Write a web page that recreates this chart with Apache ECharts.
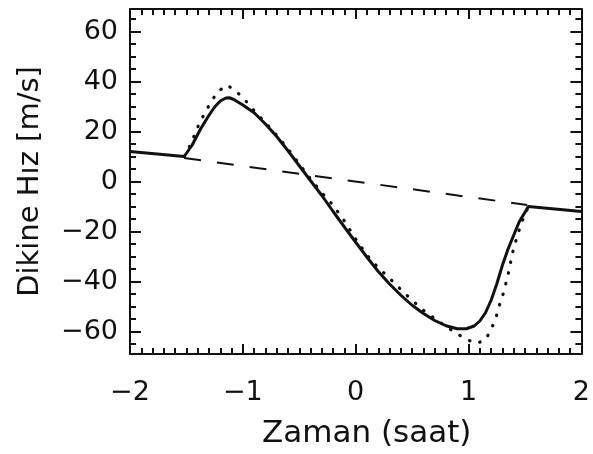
<!DOCTYPE html>
<html>
<head>
<meta charset="utf-8">
<script src="https://cdn.jsdelivr.net/npm/echarts@6/dist/echarts.min.js"></script>
<style>
  html, body { margin: 0; padding: 0; background: #fff; }
  #chart { width: 593px; height: 454px; }
</style>
</head>
<body>
<div id="chart"></div>
<script>
// solid curve (model)
var solidX = [-2, -1.52, -1.45, -1.375, -1.3, -1.25, -1.2, -1.15, -1.12, -1.08, -1.0, -0.9, -0.8, -0.7, -0.6, -0.5, -0.4, -0.3, -0.2, -0.1, 0, 0.1, 0.2, 0.3, 0.4, 0.5, 0.6, 0.7, 0.8, 0.9, 0.98, 1.05, 1.1, 1.15, 1.2, 1.25, 1.3, 1.35, 1.4, 1.45, 1.5, 1.53, 2];
var solidY = [12, 10, 14.5, 21, 26.5, 29.8, 32.2, 33.4, 33.5, 32.8, 30.6, 27.5, 23, 18, 12.3, 6.3, 0.3, -5.6, -12, -18.2, -24.3, -30.3, -36, -41, -45.5, -49.5, -52.8, -55.6, -57.7, -58.9, -58.9, -57.8, -55.8, -52.5, -47.5, -41, -33.5, -27, -21.5, -16, -12.3, -10, -12];

// dotted curve
var dotX = [-1.52, -1.45, -1.42, -1.375, -1.33, -1.28, -1.22, -1.14, -1.06, -0.99, -0.92, -0.8, -0.7, -0.6, -0.5, -0.4, -0.3, -0.2, -0.1, 0, 0.1, 0.2, 0.3, 0.4, 0.5, 0.6, 0.7, 0.8, 0.9, 1.0, 1.07, 1.15, 1.2, 1.24, 1.28, 1.31, 1.35, 1.39, 1.43, 1.47, 1.53];
var dotY = [10, 15.9, 19.9, 24.1, 28, 32, 36, 38.6, 36.1, 33.1, 29.3, 23.5, 18.5, 13, 7, 1, -4.5, -9.5, -15.8, -23, -29.5, -34.5, -38.7, -43.2, -47.5, -51.5, -54.8, -58, -61, -63.5, -64.8, -63.3, -59.2, -54.8, -48.5, -44.5, -37.3, -28.5, -22, -16.5, -10];

// dashed line
var dashX = [-1.52, 1.52];
var dashY = [9.4, -9.4];

var yMajor = [-60, -40, -20, 0, 20, 40, 60];
var yMinor = [-65, -55, -50, -45, -35, -30, -25, -15, -10, -5, 5, 10, 15, 25, 30, 35, 45, 50, 55, 65];

function pairs(xs, ys) {
    return xs.map(function (x, i) { return [x, ys[i]]; });
}
function minus(v) {
    return String(v).replace('-', '\u2212');
}

var font = 'DejaVu Sans';
var ink = '#111';

function yAxisDef(pos, ticks, len, labels, line) {
    return {
        type: 'value',
        position: pos,
        min: -69,
        max: 69,
        splitLine: { show: false },
        axisLine: { show: line, onZero: false, lineStyle: { color: ink, width: 2 } },
        axisTick: { show: true, inside: true, length: len, customValues: ticks, lineStyle: { color: ink, width: 2 } },
        axisLabel: {
            show: labels, customValues: yMajor, margin: 12,
            fontFamily: font, fontSize: 27, color: ink,
            formatter: minus
        }
    };
}

function xAxisDef(pos, labels) {
    return {
        type: 'value',
        position: pos,
        min: -2,
        max: 2,
        interval: 1,
        name: labels ? 'Zaman (saat)' : '',
        nameLocation: 'middle',
        nameGap: 64,
        nameTextStyle: { fontFamily: font, fontSize: 31, color: ink, padding: [0, 0, 0, 22] },
        splitLine: { show: false },
        axisLine: { show: true, onZero: false, lineStyle: { color: ink, width: 2 } },
        axisTick: { show: true, inside: true, length: 10, lineStyle: { color: ink, width: 2 } },
        minorTick: { show: true, splitNumber: 10, length: 6, lineStyle: { color: ink, width: 2 } },
        axisLabel: {
            show: labels, margin: 25,
            fontFamily: font, fontSize: 27, color: ink,
            formatter: minus
        }
    };
}

var yLeft = yAxisDef('left', yMajor, 11, true, true);
yLeft.name = 'Dikine Hız [m/s]';
yLeft.nameLocation = 'middle';
yLeft.nameGap = 85;
yLeft.nameTextStyle = { fontFamily: font, fontSize: 29, color: ink };

var option = {
    animation: false,
    backgroundColor: '#fff',
    grid: { left: 130, right: 4, top: 9, bottom: 95 },
    xAxis: [xAxisDef('bottom', true), xAxisDef('top', false)],
    yAxis: [
        yLeft,
        yAxisDef('left', yMinor, 6, false, false),
        yAxisDef('right', yMajor, 11, false, true),
        yAxisDef('right', yMinor, 6, false, false)
    ],
    series: [
        {
            type: 'line',
            data: pairs(dashX, dashY),
            showSymbol: false,
            lineStyle: { color: ink, width: 2, type: [17, 16] }
        },
        {
            type: 'line',
            data: pairs(dotX, dotY),
            showSymbol: false,
            lineStyle: { color: ink, width: 3.2, type: [0.5, 10.5], cap: 'round' }
        },
        {
            type: 'line',
            data: pairs(solidX, solidY),
            showSymbol: false,
            lineStyle: { color: ink, width: 3 }
        }
    ]
};

var myChart = echarts.init(document.getElementById('chart'));
myChart.setOption(option);
</script>
</body>
</html>
